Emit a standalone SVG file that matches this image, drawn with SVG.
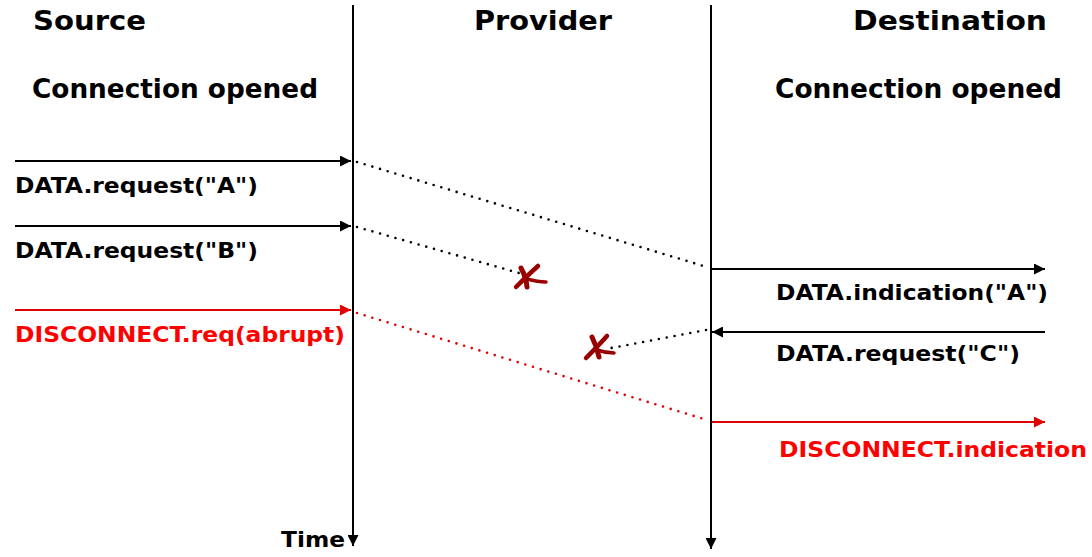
<svg xmlns="http://www.w3.org/2000/svg" width="1092" height="557" viewBox="0 0 1092 557">
<defs>
<style>
text{font-family:"DejaVu Sans","Verdana",sans-serif;font-weight:bold;}
.t{font-size:26px;fill:#000;}
.l{font-size:21px;fill:#000;}
.r{fill:#ff0000;}
.ln{stroke:#000;stroke-width:2;fill:none;}
.rl{stroke:#e00000;stroke-width:2;fill:none;}
.dot{stroke:#000;stroke-width:2.6;stroke-dasharray:0 8;stroke-linecap:round;fill:none;}
.rdot{stroke:#e00000;stroke-width:2.6;stroke-dasharray:0 8;stroke-linecap:round;fill:none;}
.x{stroke:#990000;stroke-linecap:round;fill:none;}
</style>
<marker id="ah" viewBox="0 0 10 10" refX="10" refY="5" markerWidth="11" markerHeight="11" markerUnits="userSpaceOnUse" orient="auto"><path d="M0,0 L10,5 L0,10 Z" fill="#000"/></marker>
<marker id="ahr" viewBox="0 0 10 10" refX="10" refY="5" markerWidth="11" markerHeight="11" markerUnits="userSpaceOnUse" orient="auto"><path d="M0,0 L10,5 L0,10 Z" fill="#e00000"/></marker>
</defs>
<g id="source-header">
<text class="t" x="33" y="30" textLength="113" lengthAdjust="spacingAndGlyphs">Source</text>
<text class="t" x="32" y="98" textLength="286" lengthAdjust="spacingAndGlyphs">Connection opened</text>
</g>
<g id="provider-header">
<text class="t" x="474" y="30" textLength="138" lengthAdjust="spacingAndGlyphs">Provider</text>
</g>
<g id="destination-header">
<text class="t" x="853" y="30" textLength="194" lengthAdjust="spacingAndGlyphs">Destination</text>
<text class="t" x="775" y="98" textLength="287" lengthAdjust="spacingAndGlyphs">Connection opened</text>
</g>
<g id="timelines">
<line class="ln" x1="353" y1="5" x2="353" y2="546" marker-end="url(#ah)"/>
<line class="ln" x1="711" y1="5" x2="711" y2="549" marker-end="url(#ah)"/>
<text class="l" x="281" y="547" textLength="64" lengthAdjust="spacingAndGlyphs">Time</text>
</g>
<g id="connectors">
<line class="ln" x1="15" y1="161" x2="351" y2="161" marker-end="url(#ah)"/>
<line class="ln" x1="15" y1="226" x2="351" y2="226" marker-end="url(#ah)"/>
<line class="rl" x1="15" y1="310" x2="351" y2="310" marker-end="url(#ahr)"/>
<line class="ln" x1="712" y1="269" x2="1045" y2="269" marker-end="url(#ah)"/>
<line class="ln" x1="1045" y1="332" x2="712" y2="332" marker-end="url(#ah)"/>
<line class="rl" x1="712" y1="422" x2="1045" y2="422" marker-end="url(#ahr)"/>
<line class="dot" x1="357" y1="162" x2="707" y2="267"/>
<line class="dot" x1="357" y1="227" x2="519" y2="273"/>
<line class="rdot" x1="357" y1="313" x2="707" y2="420"/>
<line class="dot" x1="706" y1="330" x2="606" y2="349"/>
</g>
<g id="failure-marks">
<path class="x" stroke-width="5" d="M521,268 Q526,277 527,287"/>
<path class="x" stroke-width="4.5" d="M516,287 Q528,275 538,266"/>
<path class="x" stroke-width="3.5" d="M527,279 Q538,282 546,282"/>
<path class="x" stroke-width="5" d="M592,337 Q597,347 599,357"/>
<path class="x" stroke-width="4.5" d="M586,358 Q598,346 607,336"/>
<path class="x" stroke-width="3.5" d="M597,350 Q606,353 614,353"/>
</g>
<g id="labels">
<text class="l" x="15" y="193" textLength="243" lengthAdjust="spacingAndGlyphs">DATA.request("A")</text>
<text class="l" x="15" y="258" textLength="243" lengthAdjust="spacingAndGlyphs">DATA.request("B")</text>
<text class="l r" x="15" y="342" textLength="330" lengthAdjust="spacingAndGlyphs">DISCONNECT.req(abrupt)</text>
<text class="l" x="776" y="300" textLength="272" lengthAdjust="spacingAndGlyphs">DATA.indication("A")</text>
<text class="l" x="776" y="361" textLength="244" lengthAdjust="spacingAndGlyphs">DATA.request("C")</text>
<text class="l r" x="779" y="457" textLength="308" lengthAdjust="spacingAndGlyphs">DISCONNECT.indication</text>
</g>
</svg>
